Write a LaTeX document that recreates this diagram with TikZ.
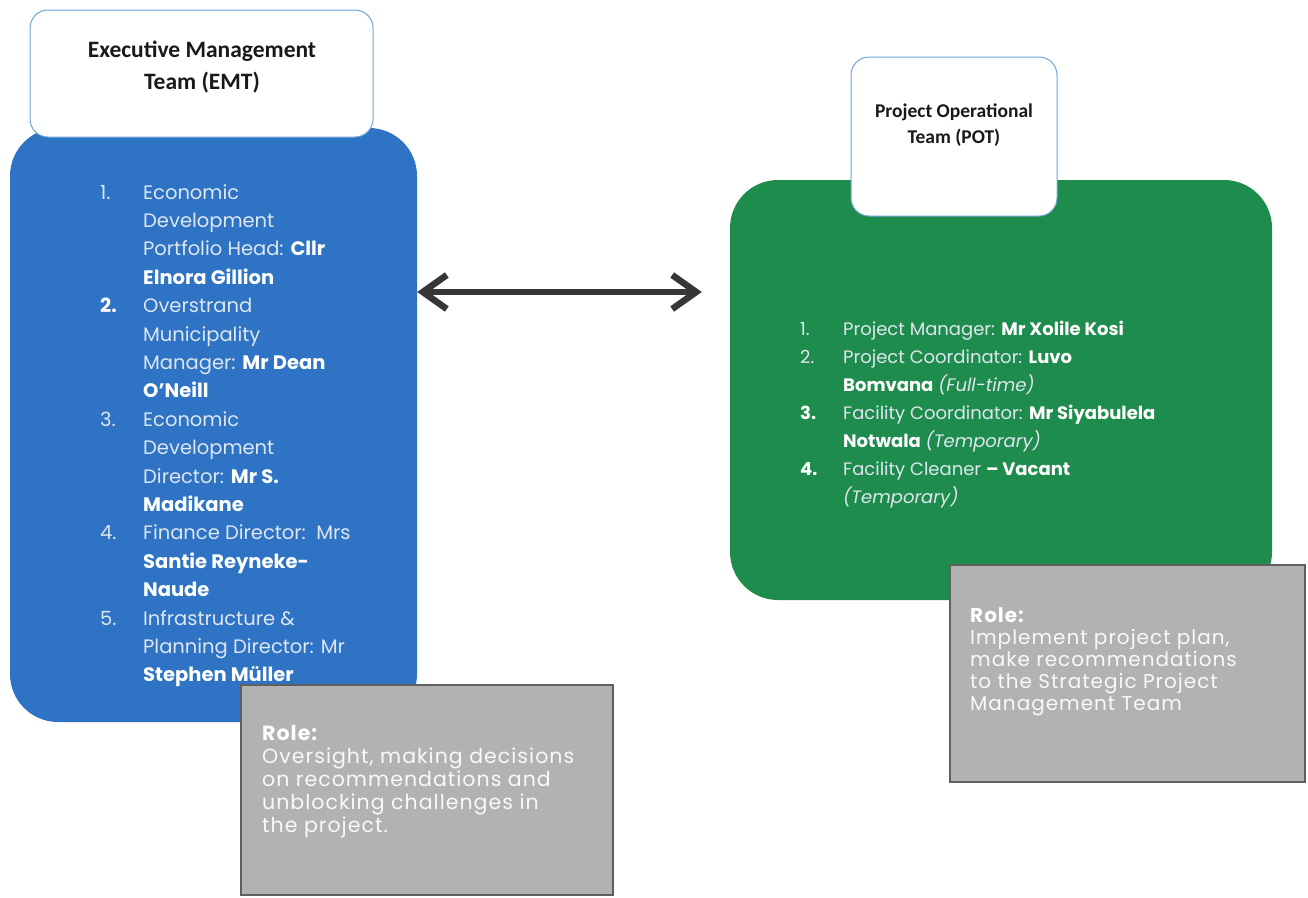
\documentclass[tikz,border=0pt]{standalone}
\usepackage{fontspec}
\setmainfont{Poppins}
\newfontfamily\hdrfont{Carlito}
\newfontfamily\rolefont{Poppins}[LetterSpace=5]
\usetikzlibrary{arrows.meta}
\definecolor{emtblue}{RGB}{46,115,196}
\definecolor{potgreen}{RGB}{30,140,76}
\definecolor{rolegray}{RGB}{178,178,178}
\definecolor{roleline}{RGB}{95,95,95}
\definecolor{hdrline}{RGB}{110,165,215}
\definecolor{lighttext}{RGB}{222,230,240}
\definecolor{arrowgray}{RGB}{55,55,55}
\definecolor{hdrtext}{RGB}{25,25,25}
\newcommand\nm[1]{{\color{white}\bfseries #1}}
\newcommand\numbox[1]{\makebox[43pt][l]{#1}}
\begin{document}
\begin{tikzpicture}[x=1pt,y=-1pt,
  bodybox/.style={inner sep=0pt, rounded corners=48pt},
  headbox/.style={draw=hdrline, line width=1pt, fill=white, rounded corners=18pt, inner sep=0pt},
  rolebox/.style={draw=roleline, line width=1.5pt, fill=rolegray, inner sep=0pt},
  listtext/.style={anchor=base west, inner sep=0pt, text=lighttext},
  roletext/.style={anchor=base west, inner sep=0pt, text=white!95!gray},
  hdrlabel/.style={inner sep=0pt, align=center, text=hdrtext},
  biarrow/.style={{Straight Barb[length=24pt,width=34pt]}-{Straight Barb[length=24pt,width=34pt]}, line width=6.5pt, draw=arrowgray}
]
\useasboundingbox (0,0) rectangle (1308,897);
\fill[white] (0,0) rectangle (1308,897);

% bodies
\node[bodybox, fill=emtblue, minimum width=407pt, minimum height=594pt] (emtbody) at (213.5,425) {};
\node[bodybox, fill=potgreen, minimum width=542pt, minimum height=420pt] (potbody) at (1001,390) {};

% headers
\node[headbox, minimum width=343pt, minimum height=127pt] (emthead) at (201.5,73.5) {};
\node[hdrlabel, font=\hdrfont\bfseries\fontsize{23.5}{32}\selectfont] (emtlabel) at (202,67) {Executive Management\\Team (EMT)};
\node[headbox, minimum width=206pt, minimum height=159pt] (pothead) at (954,136.5) {};
\node[hdrlabel, font=\hdrfont\bfseries\fontsize{19.5}{26.7}\selectfont] (potlabel) at (954,125) {Project Operational\\Team (POT)};

% arrow
\coordinate (ay) at (0,292);
\draw[biarrow] (emtbody.east |- ay) -- ([xshift=-28pt]potbody.west |- ay);

% lists
\node[listtext] (emtlist) at (100,199) {\fontsize{19.5}{28.4}\selectfont
\begin{tabular}[t]{@{}l@{}l@{}}
\numbox{1.} & Economic\\
 & Development\\
 & Portfolio Head: \nm{Cllr}\\
 & \nm{Elnora Gillion}\\
\numbox{\nm{2.}} & Overstrand\\
 & Municipality\\
 & Manager: \nm{Mr Dean}\\
 & \nm{O’Neill}\\
\numbox{3.} & Economic\\
 & Development\\
 & Director: \nm{Mr S.}\\
 & \nm{Madikane}\\
\numbox{4.} & Finance Director:\ \ Mrs\\
 & \nm{Santie Reyneke-}\\
 & \nm{Naude}\\
\numbox{5.} & Infrastructure \&\\
 & Planning Director: Mr\\
 & \nm{Stephen Müller}
\end{tabular}};

\node[listtext] (potlist) at (800,335) {\fontsize{18}{28}\selectfont
\begin{tabular}[t]{@{}l@{}l@{}}
\numbox{1.} & Project Manager: \nm{Mr Xolile Kosi}\\
\numbox{2.} & Project Coordinator: \nm{Luvo}\\
 & \nm{Bomvana} \textit{(Full-time)}\\
\numbox{\nm{3.}} & Facility Coordinator: \nm{Mr Siyabulela}\\
 & \nm{Notwala} \textit{(Temporary)}\\
\numbox{\nm{4.}} & Facility Cleaner \nm{– Vacant}\\
 & \textit{(Temporary)}
\end{tabular}};

% roles
\node[rolebox, minimum width=372pt, minimum height=210pt] (emtrole) at (427,790) {};
\node[roletext] (emtroletext) at (262,740) {\rolefont\fontsize{20.5}{23}\selectfont
\begin{tabular}[t]{@{}l@{}}
\nm{Role:}\\
Oversight, making decisions\\
on recommendations and\\
unblocking challenges in\\
the project.
\end{tabular}};

\node[rolebox, minimum width=355pt, minimum height=217pt] (potrole) at (1127.5,673.5) {};
\node[roletext] (potroletext) at (970,622) {\rolefont\fontsize{20}{22}\selectfont
\begin{tabular}[t]{@{}l@{}}
\nm{Role:}\\
Implement project plan,\\
make recommendations\\
to the Strategic Project\\
Management Team
\end{tabular}};
\end{tikzpicture}
\end{document}
